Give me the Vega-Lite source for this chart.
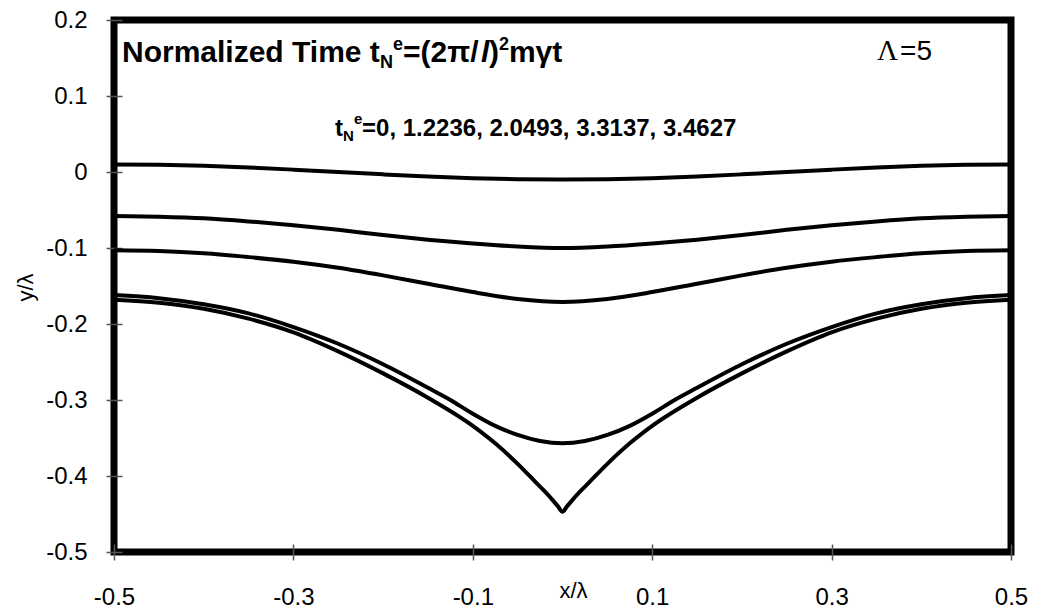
{
  "$schema": "https://vega.github.io/schema/vega-lite/v6.json",
  "width": 897,
  "height": 532,
  "autosize": "none",
  "padding": {"left": 114, "top": 20, "right": 27, "bottom": 60},
  "background": "white",
  "config": {"view": {"stroke": "black", "strokeWidth": 7}, "font": "Liberation Sans"},
  "datasets": {
    "curves": [
      {"t": "0", "x": -0.5, "y": 0.010}, {"t": "0", "x": -0.45, "y": 0.0095}, {"t": "0", "x": -0.4, "y": 0.0081}, {"t": "0", "x": -0.35, "y": 0.0059}, {"t": "0", "x": -0.3, "y": 0.0031}, {"t": "0", "x": -0.25, "y": 0.0}, {"t": "0", "x": -0.2, "y": -0.0031}, {"t": "0", "x": -0.15, "y": -0.0059}, {"t": "0", "x": -0.1, "y": -0.0081}, {"t": "0", "x": -0.05, "y": -0.0095}, {"t": "0", "x": 0, "y": -0.010},
      {"t": "0", "x": 0.05, "y": -0.0095}, {"t": "0", "x": 0.1, "y": -0.0081}, {"t": "0", "x": 0.15, "y": -0.0059}, {"t": "0", "x": 0.2, "y": -0.0031}, {"t": "0", "x": 0.25, "y": 0.0}, {"t": "0", "x": 0.3, "y": 0.0031}, {"t": "0", "x": 0.35, "y": 0.0059}, {"t": "0", "x": 0.4, "y": 0.0081}, {"t": "0", "x": 0.45, "y": 0.0095}, {"t": "0", "x": 0.5, "y": 0.010},

      {"t": "1.2236", "x": -0.5, "y": -0.058}, {"t": "1.2236", "x": -0.45, "y": -0.059}, {"t": "1.2236", "x": -0.4, "y": -0.061}, {"t": "1.2236", "x": -0.35, "y": -0.065}, {"t": "1.2236", "x": -0.3, "y": -0.070}, {"t": "1.2236", "x": -0.25, "y": -0.076}, {"t": "1.2236", "x": -0.2, "y": -0.083}, {"t": "1.2236", "x": -0.15, "y": -0.089}, {"t": "1.2236", "x": -0.1, "y": -0.094}, {"t": "1.2236", "x": -0.05, "y": -0.098}, {"t": "1.2236", "x": 0, "y": -0.100},
      {"t": "1.2236", "x": 0.05, "y": -0.098}, {"t": "1.2236", "x": 0.1, "y": -0.094}, {"t": "1.2236", "x": 0.15, "y": -0.089}, {"t": "1.2236", "x": 0.2, "y": -0.083}, {"t": "1.2236", "x": 0.25, "y": -0.076}, {"t": "1.2236", "x": 0.3, "y": -0.070}, {"t": "1.2236", "x": 0.35, "y": -0.065}, {"t": "1.2236", "x": 0.4, "y": -0.061}, {"t": "1.2236", "x": 0.45, "y": -0.059}, {"t": "1.2236", "x": 0.5, "y": -0.058},

      {"t": "2.0493", "x": -0.5, "y": -0.103}, {"t": "2.0493", "x": -0.45, "y": -0.104}, {"t": "2.0493", "x": -0.4, "y": -0.107}, {"t": "2.0493", "x": -0.35, "y": -0.112}, {"t": "2.0493", "x": -0.3, "y": -0.118}, {"t": "2.0493", "x": -0.25, "y": -0.126}, {"t": "2.0493", "x": -0.2, "y": -0.136}, {"t": "2.0493", "x": -0.15, "y": -0.147}, {"t": "2.0493", "x": -0.1, "y": -0.158}, {"t": "2.0493", "x": -0.05, "y": -0.167}, {"t": "2.0493", "x": 0, "y": -0.171},
      {"t": "2.0493", "x": 0.05, "y": -0.167}, {"t": "2.0493", "x": 0.1, "y": -0.158}, {"t": "2.0493", "x": 0.15, "y": -0.147}, {"t": "2.0493", "x": 0.2, "y": -0.136}, {"t": "2.0493", "x": 0.25, "y": -0.126}, {"t": "2.0493", "x": 0.3, "y": -0.118}, {"t": "2.0493", "x": 0.35, "y": -0.112}, {"t": "2.0493", "x": 0.4, "y": -0.107}, {"t": "2.0493", "x": 0.45, "y": -0.104}, {"t": "2.0493", "x": 0.5, "y": -0.103},

      {"t": "3.3137", "x": -0.5, "y": -0.162}, {"t": "3.3137", "x": -0.45, "y": -0.166}, {"t": "3.3137", "x": -0.4, "y": -0.174}, {"t": "3.3137", "x": -0.35, "y": -0.186}, {"t": "3.3137", "x": -0.3, "y": -0.204}, {"t": "3.3137", "x": -0.25, "y": -0.226}, {"t": "3.3137", "x": -0.2, "y": -0.253}, {"t": "3.3137", "x": -0.15, "y": -0.284}, {"t": "3.3137", "x": -0.125, "y": -0.300}, {"t": "3.3137", "x": -0.1, "y": -0.318}, {"t": "3.3137", "x": -0.075, "y": -0.334}, {"t": "3.3137", "x": -0.05, "y": -0.346}, {"t": "3.3137", "x": -0.025, "y": -0.354}, {"t": "3.3137", "x": 0, "y": -0.357},
      {"t": "3.3137", "x": 0.025, "y": -0.354}, {"t": "3.3137", "x": 0.05, "y": -0.346}, {"t": "3.3137", "x": 0.075, "y": -0.334}, {"t": "3.3137", "x": 0.1, "y": -0.318}, {"t": "3.3137", "x": 0.125, "y": -0.300}, {"t": "3.3137", "x": 0.15, "y": -0.284}, {"t": "3.3137", "x": 0.2, "y": -0.253}, {"t": "3.3137", "x": 0.25, "y": -0.226}, {"t": "3.3137", "x": 0.3, "y": -0.204}, {"t": "3.3137", "x": 0.35, "y": -0.186}, {"t": "3.3137", "x": 0.4, "y": -0.174}, {"t": "3.3137", "x": 0.45, "y": -0.166}, {"t": "3.3137", "x": 0.5, "y": -0.162},

      {"t": "3.4627", "x": -0.5, "y": -0.168}, {"t": "3.4627", "x": -0.45, "y": -0.172}, {"t": "3.4627", "x": -0.4, "y": -0.180}, {"t": "3.4627", "x": -0.35, "y": -0.193}, {"t": "3.4627", "x": -0.3, "y": -0.211}, {"t": "3.4627", "x": -0.25, "y": -0.236}, {"t": "3.4627", "x": -0.2, "y": -0.265}, {"t": "3.4627", "x": -0.15, "y": -0.297}, {"t": "3.4627", "x": -0.1, "y": -0.334}, {"t": "3.4627", "x": -0.075, "y": -0.357}, {"t": "3.4627", "x": -0.05, "y": -0.384}, {"t": "3.4627", "x": -0.03, "y": -0.408}, {"t": "3.4627", "x": -0.02, "y": -0.420}, {"t": "3.4627", "x": -0.01, "y": -0.433}, {"t": "3.4627", "x": -0.005, "y": -0.440}, {"t": "3.4627", "x": 0, "y": -0.447},
      {"t": "3.4627", "x": 0.005, "y": -0.440}, {"t": "3.4627", "x": 0.01, "y": -0.433}, {"t": "3.4627", "x": 0.02, "y": -0.420}, {"t": "3.4627", "x": 0.03, "y": -0.408}, {"t": "3.4627", "x": 0.05, "y": -0.384}, {"t": "3.4627", "x": 0.075, "y": -0.357}, {"t": "3.4627", "x": 0.1, "y": -0.334}, {"t": "3.4627", "x": 0.15, "y": -0.297}, {"t": "3.4627", "x": 0.2, "y": -0.265}, {"t": "3.4627", "x": 0.25, "y": -0.236}, {"t": "3.4627", "x": 0.3, "y": -0.211}, {"t": "3.4627", "x": 0.35, "y": -0.193}, {"t": "3.4627", "x": 0.4, "y": -0.180}, {"t": "3.4627", "x": 0.45, "y": -0.172}, {"t": "3.4627", "x": 0.5, "y": -0.168}
    ],
    "bigBold": [
      {"x": -0.4911, "y": 0.1447, "text": "Normalized Time t"},
      {"x": -0.1778, "y": 0.1447, "text": "=(2π/"},
      {"x": -0.0819, "y": 0.1447, "text": ")"},
      {"x": -0.0597, "y": 0.1447, "text": "mγt"}
    ],
    "bigItalic": [
      {"x": -0.0909, "y": 0.1447, "text": "l"}
    ],
    "smallBold": [
      {"x": -0.2035, "y": 0.1368, "text": "N"},
      {"x": -0.1890, "y": 0.1605, "text": "e"},
      {"x": -0.0708, "y": 0.1605, "text": "2"}
    ],
    "midBold": [
      {"x": -0.2536, "y": 0.0474, "text": "t"},
      {"x": -0.2235, "y": 0.0474, "text": "=0, 1.2236, 2.0493, 3.3137, 3.4627"}
    ],
    "tinyBold": [
      {"x": -0.2447, "y": 0.0408, "text": "N"},
      {"x": -0.2324, "y": 0.0632, "text": "e"}
    ],
    "lamSerif": [
      {"x": 0.3506, "y": 0.147, "text": "Λ"}
    ],
    "lamSans": [
      {"x": 0.3763, "y": 0.147, "text": "=5"}
    ]
  },
  "encoding": {
    "x": {
      "field": "x", "type": "quantitative",
      "scale": {"domain": [-0.5, 0.5], "nice": false, "zero": false},
      "axis": {
        "title": "x/λ", "values": [-0.5, -0.3, -0.1, 0.1, 0.3, 0.5], "format": ".1~f",
        "labelExpr": "replace(datum.label, '−', '-')",
        "grid": false, "domain": false, "offset": -8, "tickSize": 16, "tickColor": "#555", "tickWidth": 1.5,
        "labelFontSize": 24, "labelColor": "black", "labelPadding": 25, "labelFlush": false, "labelOverlap": false,
        "titleFontSize": 22, "titleFontWeight": "normal", "titleColor": "black",
        "titleX": 459, "titleY": 46, "titleBaseline": "middle", "titleAlign": "center"
      }
    },
    "y": {
      "field": "y", "type": "quantitative",
      "scale": {"domain": [-0.5, 0.2], "nice": false, "zero": false},
      "axis": {
        "title": "y/λ", "values": [0.2, 0.1, 0, -0.1, -0.2, -0.3, -0.4, -0.5], "format": ".1~f",
        "labelExpr": "replace(datum.label, '−', '-')",
        "grid": false, "domain": false, "offset": -8, "tickSize": 16, "tickColor": "#555", "tickWidth": 1.5,
        "labelFontSize": 24, "labelColor": "black", "labelPadding": 19, "labelFlush": false, "labelOverlap": false,
        "titleFontSize": 22, "titleFontWeight": "normal", "titleColor": "black",
        "titleX": -97, "titleY": 267, "titleBaseline": "middle", "titleAlign": "center", "titleAngle": -90
      }
    }
  },
  "layer": [
    {
      "data": {"name": "curves"},
      "mark": {"type": "line", "color": "black", "strokeWidth": 4, "interpolate": "monotone"},
      "encoding": {"detail": {"field": "t", "type": "nominal"}}
    },
    {
      "data": {"name": "bigBold"},
      "mark": {"type": "text", "font": "Liberation Sans", "fontWeight": "bold", "fontSize": 30, "align": "left", "baseline": "alphabetic", "color": "black"},
      "encoding": {"text": {"field": "text"}}
    },
    {
      "data": {"name": "bigItalic"},
      "mark": {"type": "text", "font": "Liberation Sans", "fontWeight": "bold", "fontStyle": "italic", "fontSize": 30, "align": "left", "baseline": "alphabetic", "color": "black"},
      "encoding": {"text": {"field": "text"}}
    },
    {
      "data": {"name": "smallBold"},
      "mark": {"type": "text", "font": "Liberation Sans", "fontWeight": "bold", "fontSize": 18, "align": "left", "baseline": "alphabetic", "color": "black"},
      "encoding": {"text": {"field": "text"}}
    },
    {
      "data": {"name": "midBold"},
      "mark": {"type": "text", "font": "Liberation Sans", "fontWeight": "bold", "fontSize": 24, "align": "left", "baseline": "alphabetic", "color": "black"},
      "encoding": {"text": {"field": "text"}}
    },
    {
      "data": {"name": "tinyBold"},
      "mark": {"type": "text", "font": "Liberation Sans", "fontWeight": "bold", "fontSize": 15, "align": "left", "baseline": "alphabetic", "color": "black"},
      "encoding": {"text": {"field": "text"}}
    },
    {
      "data": {"name": "lamSerif"},
      "mark": {"type": "text", "font": "Liberation Serif", "fontSize": 29, "align": "left", "baseline": "alphabetic", "color": "black"},
      "encoding": {"text": {"field": "text"}}
    },
    {
      "data": {"name": "lamSans"},
      "mark": {"type": "text", "font": "Liberation Sans", "fontSize": 28, "align": "left", "baseline": "alphabetic", "color": "black"},
      "encoding": {"text": {"field": "text"}}
    }
  ]
}
